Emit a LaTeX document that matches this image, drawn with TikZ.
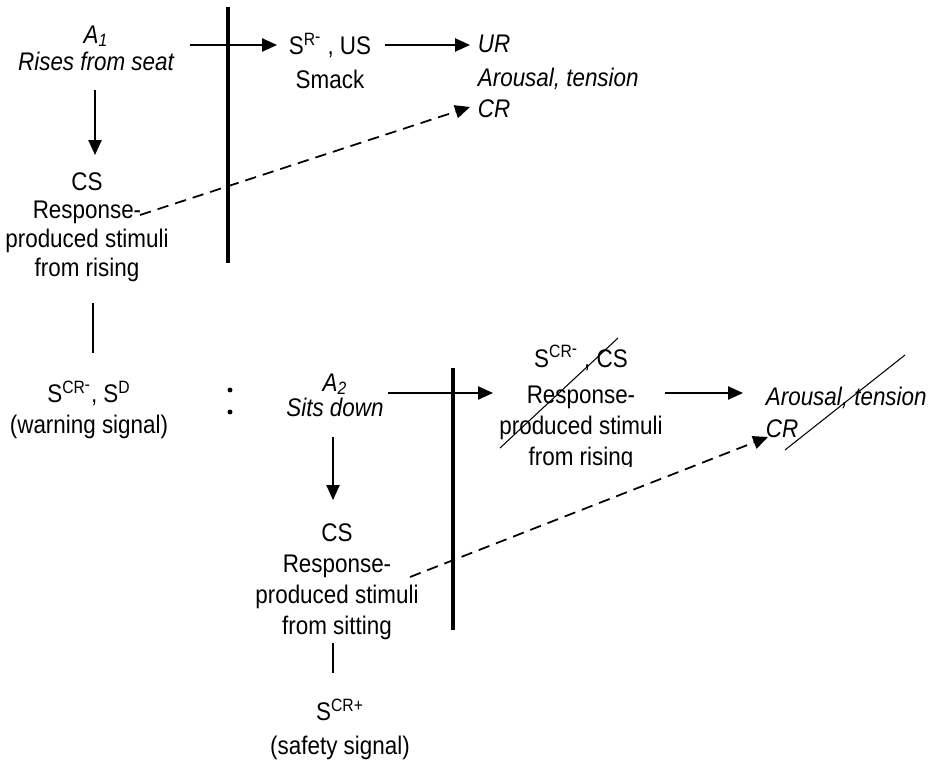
\documentclass[tikz,border=0pt]{standalone}
\usepackage{fontspec}
\setmainfont{Liberation Sans}[FakeStretch=0.88]
\usetikzlibrary{arrows.meta}

\newcommand{\supminus}{\raisebox{0.35ex}{-}}

\begin{document}
\begin{tikzpicture}[
            x = 0.02cm, y = -0.02cm, % one unit per pixel, y going down
            >= {Triangle[length=8.5pt,width=7.5pt]}, % arrow head style
            line width = 1pt % line style
        ]

        \tikzstyle{every node}=[
            inner sep = 0pt,
            align = center,
            font = \fontsize{14.5}{15.3}\selectfont
        ]
        \tikzstyle{act}=[font = \fontsize{14.5}{15.3}\selectfont\itshape]
        \tikzstyle{bar}=[line width = 2.3pt]
        \tikzstyle{strike}=[line width = 0.6pt]
        \tikzstyle{cond}=[dash pattern = on 6.5pt off 4pt]

\useasboundingbox (0,0) rectangle (934,763);

% rising
\node[act] (A1) at (96,48) {A\textsubscript{1}\\Rises from seat};
\node (CS1) at (87,227) {CS\\[1pt]Response-\\[1pt]produced stimuli\\[1pt]from rising};
\node (SRUS) at (330,61) {S\textsuperscript{R\supminus} , US\\[4pt]Smack};
\node[act, anchor=west, align=left] (UR) at (477,76) {UR\\[4pt]Arousal, tension\\[2.3pt]CR};
\node (S1) at (89,410) {S\textsuperscript{CR\supminus}, S\textsuperscript{D}\\[2.3pt](warning signal)};

% sitting
\node[act] (A2) at (335,395) {A\textsubscript{2}\\[-1pt]Sits down};
\node (CS2) at (337,582) {CS\\[2.3pt]Response-\\[2.3pt]produced stimuli\\[2.3pt]from sitting};
\node (S2) at (340,729) {S\textsuperscript{CR+}\\[4pt](safety signal)};
\begin{scope}
\clip (480,330) rectangle (700,467);
\node (SCR) at (581,408) {S\textsuperscript{CR\supminus} , CS\\[5.7pt]Response-\\[2.3pt]produced stimuli\\[2pt]from rising};
\end{scope}
\node[act, anchor=west, align=left] (AR2) at (765,412) {Arousal, tension\\[2.8pt]CR};

% bars, strike-outs, colon
\draw[bar] (228,7) -- (228,263);
\draw[bar] (453,368) -- (453,630);
\draw[strike] (500,448) -- (618,338);
\draw[strike] (785,450) -- (905,355);
\fill (230,390) circle (1.4pt);
\fill (230,412) circle (1.4pt);

 \path [->] ([shift={(94,-3)}]A1.center) edge ([shift={(-53,-16)}]SRUS.center);
 \path [->] ([shift={(55,-16)}]SRUS.center) edge ([shift={(-7,-31)}]UR.west);
 \path [->] ([shift={(-1,42)}]A1.center) edge ([shift={(8,-72)}]CS1.center);
 \path [->, cond] ([shift={(53,-12)}]CS1.center) edge ([shift={(-7,31)}]UR.west);
 \path [-] ([shift={(6,76)}]CS1.center) edge ([shift={(4,-57)}]S1.center);

 \path [->] ([shift={(53,-2)}]A2.center) edge ([shift={(-88,-15)}]SCR.center);
 \path [->] ([shift={(-2,42)}]A2.center) edge ([shift={(-4,-82)}]CS2.center);
 \path [-] ([shift={(-4,61)}]CS2.center) edge ([shift={(-7,-56)}]S2.center);
 \path [->] ([shift={(84,-15)}]SCR.center) edge ([shift={(-22,-19)}]AR2.west);
 \path [->, cond] ([shift={(73,-5)}]CS2.center) edge ([shift={(3,25)}]AR2.west);
\end{tikzpicture}
\end{document}
